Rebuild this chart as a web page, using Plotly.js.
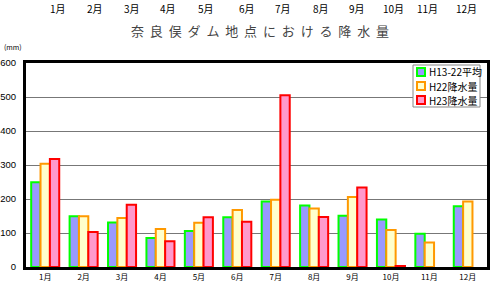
<!DOCTYPE html>
<html><head><meta charset="utf-8">
<script src="https://cdn.plot.ly/plotly-3.0.1.min.js"></script>
<style>html,body{margin:0;padding:0;background:#fff}#c{width:500px;height:287px}</style>
</head><body><div id="c"></div>
<script>
const months = ['1月','2月','3月','4月','5月','6月','7月','8月','9月','10月','11月','12月'];
const avgH13_22 = [249,149,131,85,106,146,193,181,151,140,98,179];
const rainH22 = [304,149,144,112,130,168,198,172,206,109,72,193];
const rainH23 = [318,103,183,76,146,133,505,147,234,3,null,null];
const seriesNames = ['H13-22平均','H22降水量','H23降水量'];
const fillColors = ['#9999FF','#FFFFCC','#FF99CC'];
const lineColors = ['#00FF00','#FF9900','#FF0000'];
const topLabelX = [58,95,132,168,206,247,283,321,357,393,427,466];

const jp = '"Noto Sans CJK JP", "Liberation Sans", sans-serif';
const L = 26, T = 63, W = 461, H = 204, FH = 287;
const px = x => (x - L) / W;
const py = y => (FH - 20 - y) / H;

const series = [avgH13_22, rainH22, rainH23];
const traces = series.map((ys, i) => ({type:'bar', x: months, y: ys, name: seriesNames[i],
  marker:{color:fillColors[i], line:{color:lineColors[i], width:2}}}));

const annotations = months.map((m,i)=>({
  xref:'paper', yref:'paper', x:px(topLabelX[i]), y:py(8), yanchor:'middle', xanchor:'center',
  text:m, showarrow:false, font:{family:jp, size:10, color:'#000'}
}));
const sp = '\u2005\u2009';
annotations.push({xref:'paper', yref:'paper', x:px(259.5), y:py(31), xanchor:'center', yanchor:'middle',
  text:'奈良俣ダム地点における降水量'.split('').join(sp), showarrow:false, font:{family:jp, size:13, color:'#444'}});
annotations.push({xref:'paper', yref:'paper', x:px(2), y:py(47), xanchor:'left', yanchor:'middle',
  text:'(mm)', showarrow:false, font:{family:jp, size:7, color:'#000'}});

// custom legend
const shapes = [{type:'rect', xref:'paper', yref:'paper', x0:px(413), x1:px(480), y0:py(107), y1:py(65),
  fillcolor:'#fff', line:{color:'#888', width:1}, layer:'above'}];
const legY = [72, 86, 100];
seriesNames.forEach((n,i)=>{
  shapes.push({type:'rect', xref:'paper', yref:'paper', x0:px(417), x1:px(425), y0:py(legY[i]+4), y1:py(legY[i]-4),
    fillcolor:fillColors[i], line:{color:lineColors[i], width:2}, layer:'above'});
  annotations.push({xref:'paper', yref:'paper', x:px(427), y:py(legY[i]), xanchor:'left', yanchor:'middle',
    text:n, showarrow:false, font:{family:jp, size:10, color:'#000'}});
});

const layout = {
  width:500, height:287,
  margin:{l:L, r:13, t:T, b:20},
  paper_bgcolor:'#fff', plot_bgcolor:'#fff',
  barmode:'group', bargap:0.27, bargroupgap:0,
  showlegend:false,
  xaxis:{showgrid:false, showline:true, linecolor:'#000', linewidth:3, mirror:true,
    tickfont:{family:jp, size:8, color:'#000'}, ticks:'', fixedrange:true},
  yaxis:{range:[0,600], dtick:100, showgrid:true, gridcolor:'#777', gridwidth:1,
    showline:true, linecolor:'#000', linewidth:3, mirror:true, zeroline:false,
    tickfont:{family:'"Liberation Sans", Arial, sans-serif', size:9.5, color:'#000'}, ticks:'', ticklabelstandoff:5},
  annotations:annotations,
  shapes:shapes,
  font:{family:jp}
};
Plotly.newPlot('c', traces, layout, {displayModeBar:false, staticPlot:true});
</script></body></html>
